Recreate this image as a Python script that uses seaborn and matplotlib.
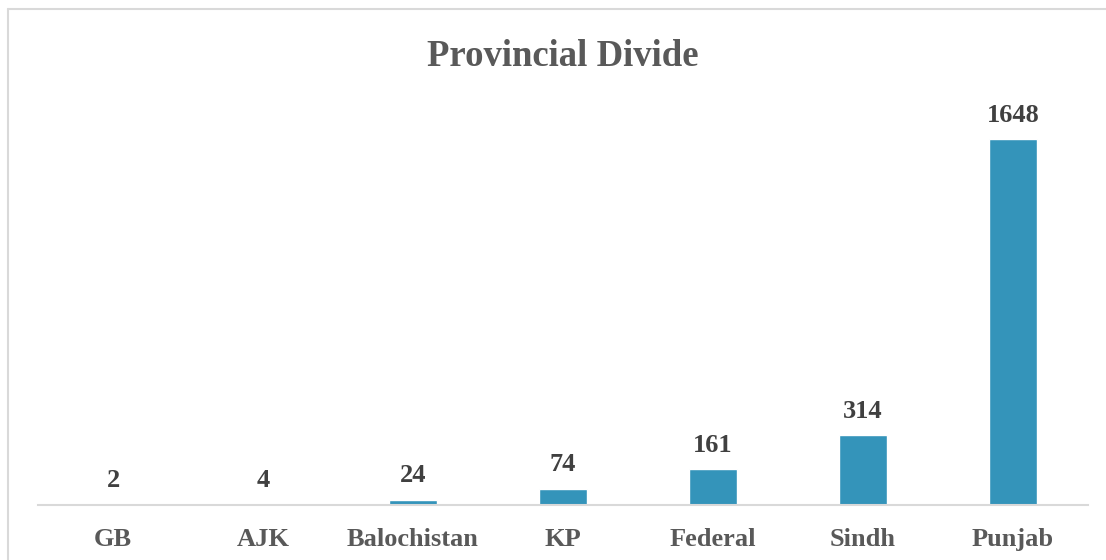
import pandas as pd
import matplotlib.pyplot as plt
import seaborn as sns
from matplotlib.lines import Line2D

# Chart data
regions = ["GB", "AJK", "Balochistan", "KP", "Federal", "Sindh", "Punjab"]
counts = [2, 4, 24, 74, 161, 314, 1648]

BAR_COLOR = "#3494BA"
GRID_GRAY = "#D9D9D9"

sns.set_theme(style="white")
plt.rcParams["font.family"] = ["Liberation Serif", "DejaVu Serif"]

df = pd.DataFrame({"Region": regions, "Count": counts})

fig = plt.figure(figsize=(11.06, 5.60), dpi=100)
ax = fig.add_axes([38 / 1106, 55 / 560, 1050 / 1106, 405 / 560])

sns.barplot(data=df, x="Region", y="Count", color=BAR_COLOR, width=0.32,
            saturation=1, ax=ax)

# value labels above bars
ax.bar_label(ax.containers[0], labels=[str(v) for v in counts], padding=9,
             fontsize=19, fontweight="bold", color="#404040")

ax.set_ylim(0, 405 / (366 / 1648))
ax.set_xlim(-0.5, len(regions) - 0.5)
ax.set_xlabel("")
ax.set_ylabel("")
ax.set_yticks([])
ax.tick_params(axis="x", length=0, pad=16.5)
for lbl in ax.get_xticklabels():
    lbl.set_fontsize(19)
    lbl.set_fontweight("bold")
    lbl.set_color("#595959")

for side in ["top", "left", "right"]:
    ax.spines[side].set_visible(False)
ax.spines["bottom"].set_color(GRID_GRAY)
ax.spines["bottom"].set_linewidth(1.5)

fig.text(563 / 1106, 1 - 56 / 560, "Provincial Divide", ha="center", va="center",
         fontsize=26.5, fontweight="bold", color="#595959")

# light chart-area border: only top and left edges are inside the image
x0, y0 = 8 / 1106, 1 - 9 / 560
fig.add_artist(Line2D([x0, 1.05], [y0, y0], transform=fig.transFigure,
                      color=GRID_GRAY, linewidth=1.5))
fig.add_artist(Line2D([x0, x0], [-0.05, y0], transform=fig.transFigure,
                      color=GRID_GRAY, linewidth=1.5))

fig.savefig("out.png", dpi=100)
